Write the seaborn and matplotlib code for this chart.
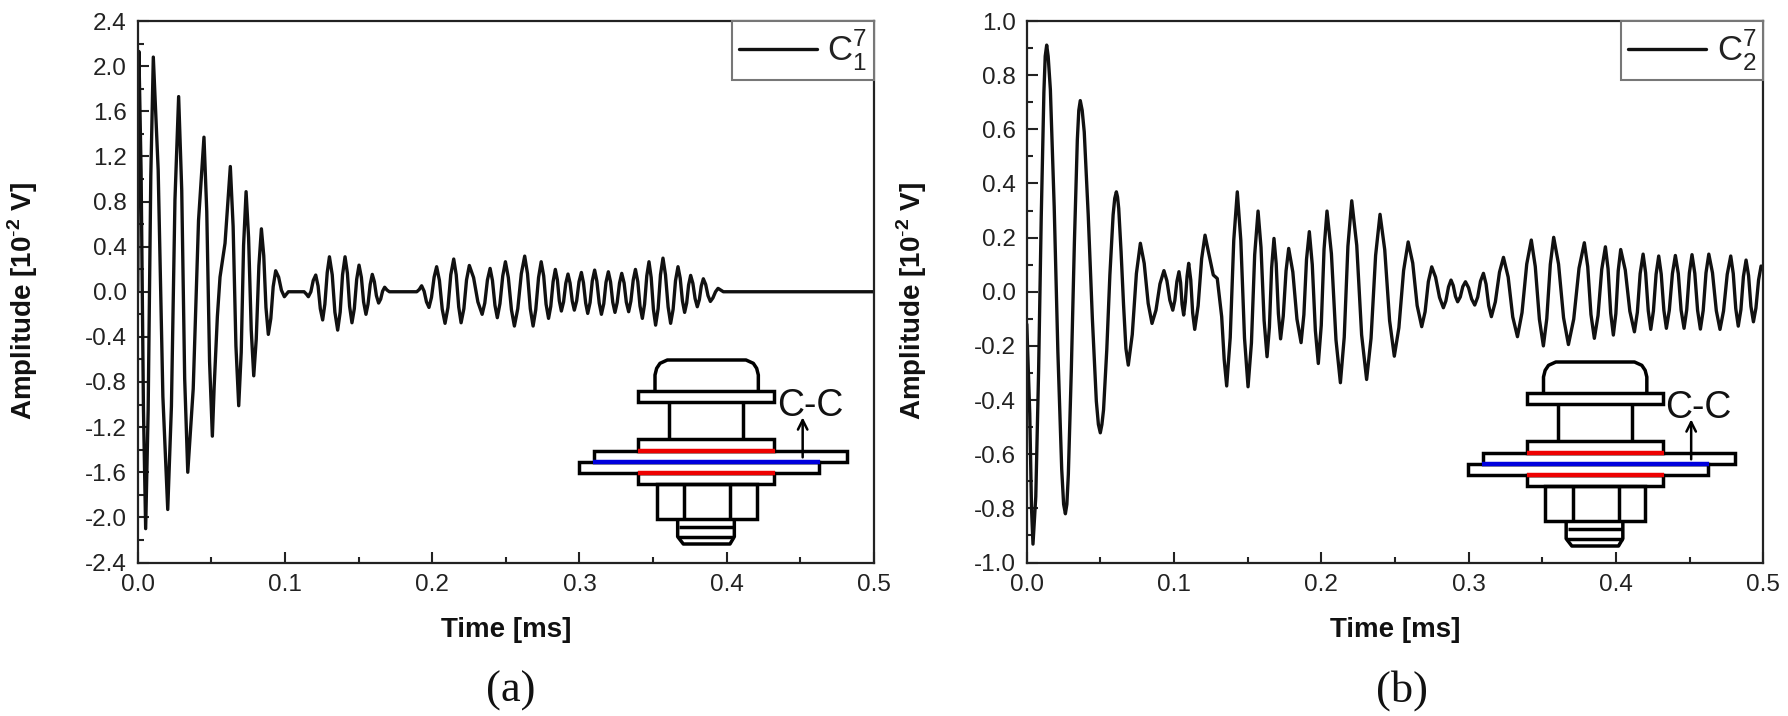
import matplotlib
matplotlib.use("Agg")
import matplotlib.pyplot as plt
from matplotlib.patches import FancyArrowPatch, Rectangle
from matplotlib.ticker import MultipleLocator
import pandas as pd
import seaborn as sns

# (time in ms, amplitude), panel (a)
decay_a = [(0, 0.0), (.0008, 2.13), (.0023, 1.07), (.0039, -1.04), (.0054, -2.1), (.0071, -1.05), (.0089, 1.03),
           (.0106, 2.08), (.0139, 1.08), (.0171, -.93), (.0204, -1.93), (.0229, -1.015), (.0253, .815),
           (.0278, 1.73), (.0299, .90), (.0319, -.77), (.034, -1.6), (.0377, -.86), (.0413, .63),
           (.045, 1.37), (.0469, .71), (.0488, -.62), (.0507, -1.28), (.0519, -.85), (.0541, -.22),
           (.0559, .13), (.0593, .43), (.0629, 1.11), (.0648, .58), (.0667, -.48), (.0686, -1.01),
           (.0703, -.535), (.0719, .41), (.0736, .887), (.0753, .48), (.0771, -.34), (.0788, -.745),
           (.0805, -.42), (.0823, .23), (.084, .558), (.0856, .32), (.0871, -.14), (.0887, -.378),
           (.0904, -.237), (.092, .045), (.0937, .186), (.0957, .13), (.0976, .013), (.0996, -.044),
           (.1023, 0), (.113, 0)]
burst_a = [(.1145, -.02), (.1159, -.044), (.1176, 0), (.1192, .10), (.1209, .148), (.1225, .05), (.124, -.15),
           (.1256, -.25), (.1271, -.11), (.1287, .17), (.1302, .31), (.1321, .15), (.1339, -.18),
           (.1358, -.34), (.1375, -.18), (.1391, .15), (.1408, .31), (.1424, .165), (.1439, -.13),
           (.1455, -.275), (.1471, -.15), (.1487, .11), (.1503, .236), (.1519, .127), (.1534, -.09),
           (.155, -.2), (.1564, -.11), (.1579, .065), (.1593, .154), (.1607, .09), (.1621, -.035),
           (.1636, -.1), (.165, -.065), (.1663, .005), (.1677, .04), (.1693, .015), (.1709, 0), (.1895, 0)]
packet_a = [(.1912, .02), (.1928, .053), (.1945, .005), (.1961, -.09), (.1978, -.139), (.1995, -.05), (.2013, .13),
            (.203, .222), (.2049, .10), (.2068, -.155), (.2087, -.28), (.2107, -.14), (.2126, .15),
            (.2146, .29), (.2163, .15), (.218, -.135), (.2196, -.275), (.2215, -.15), (.2233, .105),
            (.2252, .233), (.2281, .125), (.231, -.09), (.2339, -.2), (.2357, -.1), (.2375, .105),
            (.2393, .207), (.2409, .10), (.2426, -.12), (.2442, -.23), (.246, -.105), (.2479, .14),
            (.2497, .266), (.2517, .125), (.2538, -.16), (.2558, -.304), (.2581, -.15), (.2605, .16),
            (.2628, .316), (.2647, .16), (.2666, -.15), (.2685, -.304), (.2703, -.16), (.2722, .125),
            (.274, .266), (.2757, .14), (.2773, -.11), (.279, -.236), (.2805, -.13), (.2821, .09),
            (.2836, .198), (.285, .105), (.2863, -.08), (.2877, -.171), (.2892, -.09), (.2907, .075),
            (.2922, .157), (.2936, .077), (.2951, -.083), (.2965, -.163), (.2981, -.08), (.2997, .09),
            (.3013, .171), (.3027, .08), (.3042, -.10), (.3056, -.192), (.3072, -.096), (.3087, .096),
            (.3103, .192), (.3118, .094), (.3134, -.10), (.3149, -.2), (.3165, -.106), (.318, .083),
            (.3196, .177), (.3211, .087), (.3226, -.093), (.3241, -.183), (.3256, -.096), (.3272, .077),
            (.3287, .163), (.3303, .078), (.3318, -.092), (.3334, -.177), (.3349, -.083), (.3365, .104),
            (.338, .198), (.3396, .09), (.3411, -.127), (.3427, -.236), (.3442, -.11), (.3457, .14),
            (.3472, .266), (.3487, .125), (.3502, -.155), (.3517, -.296), (.3534, -.15), (.355, .15),
            (.3567, .298), (.3584, .15), (.3602, -.135), (.3619, -.28), (.3636, -.155), (.3652, .097),
            (.3669, .222), (.3684, .12), (.3699, -.08), (.3714, -.183), (.3728, -.10), (.3741, .06),
            (.3755, .145), (.377, .075), (.3785, -.06), (.38, -.133), (.3814, -.07), (.3827, .05),
            (.3841, .115), (.3857, .065), (.3873, -.035), (.3889, -.086), (.3906, -.055), (.3924, 0),
            (.3941, .03), (.3977, 0), (.5, 0)]

# panel (b)
decay_b = [(0, -.12), (.002, -.45), (.0032, -.8), (.0042, -.932), (.0061, -.757), (.008, -.296), (.0098, .275),
           (.0116, .736), (.0125, .87), (.0135, .911), (.0145, .87), (.016, .747), (.0186, .314), (.0211, -.223),
           (.0237, -.656), (.025, -.785), (.0262, -.82), (.0272, -.785), (.0282, -.675), (.0302, -.294),
           (.0323, .18), (.0343, .561), (.0353, .67), (.0363, .706), (.0376, .67), (.039, .59), (.0417, .283),
           (.0445, -.098), (.0472, -.404), (.0486, -.49), (.0499, -.521), (.051, -.49), (.0521, -.436),
           (.0543, -.214), (.0564, .062), (.0586, .284), (.0597, .345), (.0608, .369), (.0616, .35), (.0624, .308),
           (.064, .148), (.0657, -.05), (.0673, -.21), (.0689, -.271), (.0716, -.158), (.0744, .067), (.0771, .179),
           (.0797, .105), (.0824, -.043), (.085, -.117), (.0877, -.068), (.0904, .029), (.0931, .078),
           (.0951, .041), (.0971, -.031), (.0991, -.068), (.1005, -.032), (.1019, .038), (.1033, .074),
           (.1044, .034), (.1054, -.046), (.1065, -.086), (.1076, -.038), (.1088, .057), (.1099, .105),
           (.1113, .044), (.1126, -.078), (.114, -.139), (.1163, -.052), (.1187, .122), (.121, .209),
           (.1232, .15), (.1266, .062), (.1293, .049), (.1323, -.092), (.134, -.25), (.1357, -.348)]
middle_b = [(.1381, -.169), (.1405, .19), (.1429, .369), (.1453, .189), (.1478, -.171), (.1502, -.351),
            (.1525, -.189), (.1547, .136), (.157, .298), (.159, .164), (.1611, -.106), (.1631, -.24),
            (.1647, -.131), (.1662, .088), (.1678, .197), (.1693, .104), (.1708, -.081), (.1723, -.174),
            (.1741, -.09), (.176, .077), (.1778, .16), (.1806, .073), (.1834, -.101), (.1862, -.188),
            (.1881, -.085), (.1899, .12), (.1918, .222), (.1938, .10), (.1959, -.143), (.1979, -.265),
            (.1999, -.124), (.2018, .157), (.2038, .298), (.2068, .14), (.2099, -.178), (.2129, -.336),
            (.2155, -.168), (.218, .168), (.2206, .336), (.224, .171), (.2273, -.159), (.2307, -.324),
            (.2337, -.172), (.2368, .134), (.2398, .286), (.243, .155), (.2463, -.107), (.2495, -.238),
            (.2526, -.133), (.2558, .078), (.2589, .184), (.262, .106), (.265, -.051), (.2681, -.129),
            (.2704, -.074), (.2726, .037), (.2749, .092), (.2775, .054), (.2802, -.021), (.2828, -.059),
            (.2845, -.034), (.2863, .018), (.288, .043), (.2895, .023), (.291, -.017), (.2925, -.037),
            (.2943, -.019), (.296, .019), (.2978, .037), (.2999, .015), (.302, -.027), (.3041, -.049),
            (.3061, -.02), (.308, .039), (.31, .068), (.3118, .028), (.3136, -.052), (.3154, -.092)]
tail_b = [(.3181, -.037), (.3209, .072), (.3236, .127), (.3268, .054), (.3299, -.093), (.3331, -.166),
          (.3362, -.077), (.3394, .102), (.3425, .191), (.3452, .093), (.348, -.102), (.3507, -.2),
          (.353, -.10), (.3554, .101), (.3577, .201), (.361, .102), (.3644, -.096), (.3677, -.195),
          (.3713, -.101), (.3749, .087), (.3785, .181), (.3808, .093), (.383, -.084), (.3853, -.172),
          (.3878, -.088), (.3903, .082), (.3928, .166), (.3946, .085), (.3964, -.079), (.3982, -.16),
          (.3999, -.081), (.4015, .077), (.4032, .156), (.4063, .08), (.4094, -.072), (.4125, -.148),
          (.4145, -.076), (.4164, .067), (.4184, .139), (.4201, .07), (.4219, -.07), (.4236, -.139),
          (.4254, -.071), (.4272, .064), (.429, .132), (.4307, .065), (.4325, -.068), (.4342, -.135),
          (.4362, -.068), (.4383, .067), (.4403, .134), (.4423, .067), (.4442, -.068), (.4462, -.135),
          (.448, -.067), (.4498, .069), (.4516, .137), (.4535, .068), (.4554, -.069), (.4573, -.138),
          (.4592, -.069), (.4611, .07), (.463, .139), (.4655, .07), (.4681, -.07), (.4706, -.139),
          (.473, -.071), (.4755, .064), (.4779, .132), (.4796, .067), (.4813, -.062), (.483, -.127),
          (.4848, -.066), (.4865, .056), (.4883, .117), (.49, .06), (.4916, -.054), (.4933, -.111),
          (.495, -.06), (.4968, .044), (.4985, .095), (.5, .09)]

W, H = 1788, 716
LINE = "#111111"

sns.set_theme(style="ticks")
plt.rcParams["font.family"] = ["Liberation Sans", "DejaVu Sans"]
plt.rcParams["mathtext.fontset"] = "custom"
plt.rcParams["mathtext.rm"] = "Liberation Sans"
plt.rcParams["mathtext.bf"] = "Liberation Sans:bold"
plt.rcParams["axes.unicode_minus"] = False

fig = plt.figure(figsize=(W / 100, H / 100), dpi=100, facecolor="white")


def panel(left, right, points, ymax, major, minor, legend):
    top, bottom = 21, 562.5
    ax = fig.add_axes([left / W, 1 - bottom / H, (right - left) / W, (bottom - top) / H])
    df = pd.DataFrame(points, columns=["t", "amp"])
    sns.lineplot(data=df, x="t", y="amp", ax=ax, color=LINE, lw=2.4, sort=False,
                 estimator=None, errorbar=None, label=legend, solid_joinstyle="round")
    ax.set_xlim(0, 0.5)
    ax.set_ylim(-ymax, ymax)
    ax.xaxis.set_major_locator(MultipleLocator(0.1))
    ax.xaxis.set_minor_locator(MultipleLocator(0.05))
    ax.yaxis.set_major_locator(MultipleLocator(major))
    ax.yaxis.set_minor_locator(MultipleLocator(minor))
    ax.xaxis.set_major_formatter("{x:.1f}")
    ax.yaxis.set_major_formatter("{x:.1f}")
    ax.tick_params(which="major", direction="in", length=8, width=1.5, labelsize=17.5, pad=8, color="#222222",
                   labelcolor="#222222")
    ax.tick_params(which="minor", direction="in", length=4.5, width=1.5, color="#222222")
    for s in ax.spines.values():
        s.set_linewidth(1.6)
        s.set_color("#222222")
    ax.set_xlabel("Time [ms]", fontsize=20, fontweight="bold", color="#111111")
    ax.set_ylabel(r"Amplitude [10$^{\mathbf{\text{-}2}}$ V]", fontsize=20, fontweight="bold", color="#111111")
    ax.xaxis.set_label_coords(0.5, -0.10)
    ax.yaxis.set_label_coords(-98 / (right - left), 0.483)
    leg = ax.legend(loc="upper right", fontsize=25, frameon=True, fancybox=False, framealpha=1,
                    edgecolor="#777777", borderaxespad=0, handlelength=2.25, handletextpad=0.3,
                    borderpad=0.2, labelcolor="#222222")
    leg.get_frame().set_linewidth(1.5)
    return ax


panel(137.7, 874, decay_a + burst_a + packet_a, 2.4, 0.4, 0.2, r"$\mathrm{C}_{1}^{7}$")
panel(1026.8, 1763.3, decay_b + middle_b + tail_b, 1.0, 0.2, 0.1, r"$\mathrm{C}_{2}^{7}$")

# overlay in pixel units for the bolt sketches and captions
over = fig.add_axes([0, 0, 1, 1], facecolor="none")
over.set_xlim(0, W)
over.set_ylim(H, 0)
over.axis("off")


def bolt(ox, oy):
    # coordinates measured at 3x from the reference crop
    def px(x, y):
        return ox + x / 3, oy + y / 3

    def line(xs, ys, c="black", lw=2.5):
        pts = [px(x, y) for x, y in zip(xs, ys)]
        over.plot([p[0] for p in pts], [p[1] for p in pts], color=c, lw=lw, solid_capstyle="butt",
                  solid_joinstyle="round")

    def box(x0, y0, x1, y1):
        a, b = px(x0, y0)
        c, d = px(x1, y1)
        over.add_patch(Rectangle((a, b), c - a, d - b, fill=False, ec="black", lw=2.5))

    line([285, 285, 290, 300, 322, 558, 580, 590, 595, 595], [150, 105, 85, 70, 60, 60, 70, 85, 105, 150])
    box(235, 152, 643, 187)
    line([328, 328], [187, 298])
    line([550, 550], [187, 298])
    box(235, 298, 643, 333)
    box(102, 333, 860, 366)
    box(58, 366, 778, 399)
    box(235, 399, 643, 433)
    box(290, 433, 590, 538)
    line([372, 372], [433, 538])
    line([510, 510], [433, 538])
    line([353, 353, 370, 510, 523, 523], [538, 590, 612, 612, 590, 538])
    line([358, 520], [562, 562])
    line([353, 523], [592, 592])
    line([235, 645], [333, 333], "#ee0000", 3.2)
    line([235, 645], [399, 399], "#ee0000", 3.2)
    line([100, 780], [366, 366], "#0000dd", 3.2)
    a = px(728, 352)
    b = px(728, 232)
    over.add_patch(FancyArrowPatch(a, b, arrowstyle="->", mutation_scale=17, color="black", lw=1.8,
                                   shrinkA=0, shrinkB=0))
    tx, ty = px(750, 198)
    over.text(tx, ty, "C-C", fontsize=27, ha="center", va="center", color="#111111")


bolt(560, 340)
bolt(1448.5, 342)

over.text(511, 691, "(a)", fontsize=32, family="Liberation Serif", ha="center", va="center", color="#111111")
over.text(1402, 691, "(b)", fontsize=32, family="Liberation Serif", ha="center", va="center", color="#111111")

fig.savefig("out.png", dpi=100)
